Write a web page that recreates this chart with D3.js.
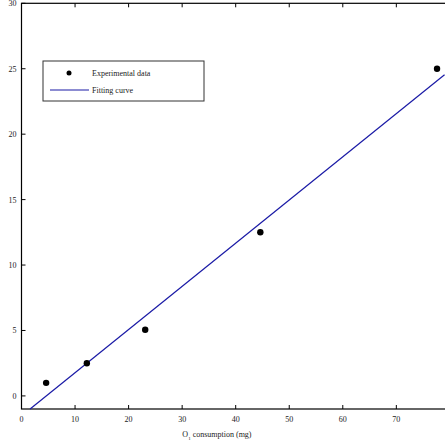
<!DOCTYPE html>
<html><head><meta charset="utf-8">
<script src="https://cdn.jsdelivr.net/npm/d3@7"></script>
<style>body{margin:0;background:#fff}text{font-family:"Liberation Serif",serif;fill:#222}</style>
</head><body><svg id="c" width="445" height="445"></svg>
<script>
const xData=[4.6,12.2,23.1,44.6,77.6];
const yData=[1.0,2.5,5.05,12.5,25.0];
const fitX=[1.6,79];
const fitSlope=0.33, fitIntercept=-1.53;
const xTicks=[0,10,20,30,40,50,60,70];
const yTicks=[0,5,10,15,20,25,30];
const xLabel="consumption (mg)";

const svg=d3.select("#c");
const L=21.5,R=444,T=3.3,B=409;
const x=d3.scaleLinear().domain([0,78.9]).range([L,R]);
const y=d3.scaleLinear().domain([-1,30]).range([B,T]);
const g=svg.append("g");
g.append("rect").attr("x",L).attr("y",T).attr("width",R-L+5).attr("height",B-T).attr("fill","none").attr("stroke","#000").attr("stroke-width",1.2);
xTicks.forEach(t=>{
  g.append("line").attr("x1",x(t)).attr("x2",x(t)).attr("y1",B).attr("y2",B-4).attr("stroke","#000");
  g.append("line").attr("x1",x(t)).attr("x2",x(t)).attr("y1",T).attr("y2",T+4).attr("stroke","#000");
  g.append("text").attr("x",x(t)).attr("y",B+13).attr("text-anchor","middle").attr("font-size",8).text(t);
});
yTicks.forEach(t=>{
  g.append("line").attr("x1",L).attr("x2",L+4).attr("y1",y(t)).attr("y2",y(t)).attr("stroke","#000");
  g.append("text").attr("x",L-5).attr("y",y(t)+3).attr("text-anchor","end").attr("font-size",8).text(t);
});
const lab=g.append("text").attr("x",x(36.5)).attr("y",437).attr("text-anchor","middle").attr("font-size",8);
lab.append("tspan").text("O");
lab.append("tspan").attr("dy",3).attr("font-size",5).text("1");
lab.append("tspan").attr("dy",-3).text(" "+xLabel);
g.append("line").attr("x1",x(fitX[0])).attr("y1",y(fitSlope*fitX[0]+fitIntercept))
 .attr("x2",x(fitX[1])).attr("y2",y(fitSlope*fitX[1]+fitIntercept)).attr("stroke","#1a1aa6").attr("stroke-width",1.2);
g.selectAll("circle.d").data(xData).join("circle").attr("cx",(d)=>x(d)).attr("cy",(d,i)=>y(yData[i])).attr("r",3.2).attr("fill","#000");
const lg=g.append("g");
lg.append("rect").attr("x",43).attr("y",61).attr("width",161).attr("height",40).attr("fill","#fff").attr("stroke","#333");
lg.append("circle").attr("cx",69).attr("cy",73).attr("r",2.5).attr("fill","#000");
lg.append("text").attr("x",92).attr("y",76).attr("font-size",8).text("Experimental data");
lg.append("line").attr("x1",50).attr("x2",89).attr("y1",90).attr("y2",90).attr("stroke","#1a1aa6").attr("stroke-width",1.2);
lg.append("text").attr("x",92).attr("y",93).attr("font-size",8).text("Fitting curve");
</script></body></html>
